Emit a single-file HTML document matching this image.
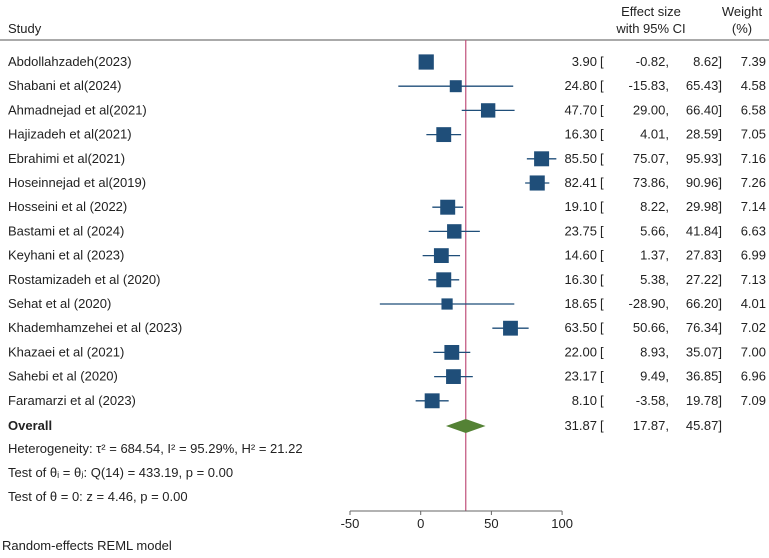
<!DOCTYPE html>
<html><head><meta charset="utf-8"><style>
html,body{margin:0;padding:0;background:#fff;}
svg{display:block;font-family:"Liberation Sans",Arial,sans-serif;font-size:13px;fill:#222;}
</style></head><body>
<svg id="chart" width="769" height="558" viewBox="0 0 769 558" xmlns="http://www.w3.org/2000/svg">
<text x="8" y="33">Study</text>
<text x="651" y="16" text-anchor="middle">Effect size</text>
<text x="651" y="33" text-anchor="middle">with 95% CI</text>
<text x="742" y="16" text-anchor="middle">Weight</text>
<text x="742" y="33" text-anchor="middle">(%)</text>
<line x1="0" y1="40" x2="769" y2="40" stroke="#555" stroke-width="1"/>
<g id="rows"></g>
<text x="8" y="430" font-weight="bold">Overall</text>
<text x="8" y="453">Heterogeneity: τ² = 684.54, I² = 95.29%, H² = 21.22</text>
<text x="8" y="477">Test of θᵢ = θⱼ: Q(14) = 433.19, p = 0.00</text>
<text x="8" y="501">Test of θ = 0: z = 4.46, p = 0.00</text>
<text x="2" y="550">Random-effects REML model</text>
<script>
const studies=["Abdollahzadeh(2023)","Shabani et al(2024)","Ahmadnejad et al(2021)","Hajizadeh et al(2021)","Ebrahimi et al(2021)","Hoseinnejad et al(2019)","Hosseini et al (2022)","Bastami et al (2024)","Keyhani et al (2023)","Rostamizadeh et al (2020)","Sehat et al (2020)","Khademhamzehei et al (2023)","Khazaei et al (2021)","Sahebi et al (2020)","Faramarzi et al (2023)"];
const est=[3.90,24.80,47.70,16.30,85.50,82.41,19.10,23.75,14.60,16.30,18.65,63.50,22.00,23.17,8.10];
const lo=[-0.82,-15.83,29.00,4.01,75.07,73.86,8.22,5.66,1.37,5.38,-28.90,50.66,8.93,9.49,-3.58];
const hi=[8.62,65.43,66.40,28.59,95.93,90.96,29.98,41.84,27.83,27.22,66.20,76.34,35.07,36.85,19.78];
const weights=[7.39,4.58,6.58,7.05,7.16,7.26,7.14,6.63,6.99,7.13,4.01,7.02,7.00,6.96,7.09];
const overall=[31.87,17.87,45.87];
const ticks=[-50,0,50,100];
const NS="http://www.w3.org/2000/svg";
const svg=document.getElementById('chart');const g=document.getElementById('rows');
const xs=v=>420.7+v*1.414;
const ys=i=>62+i*24.2;
function mk(tag,at,parent){const e=document.createElementNS(NS,tag);for(const k in at)e.setAttribute(k,at[k]);(parent||g).appendChild(e);return e;}
function txt(x,y,s,anchor,name){const t=mk('text',{x:x,y:y,'text-anchor':anchor});t.textContent=s;

return t;}
const rl=mk('line',{x1:xs(overall[0]),y1:40,x2:xs(overall[0]),y2:511,stroke:'#c0507a','stroke-width':1.2});


studies.forEach((s,i)=>{
 const y=ys(i);
 txt(8,y+4,s,'start','study-label');
 const l=mk('line',{x1:xs(lo[i]),y1:y,x2:xs(hi[i]),y2:y,stroke:'#1f4e79','stroke-width':1.3});
 
 
 const sz=5.6*Math.sqrt(weights[i]);
 const r=mk('rect',{x:xs(est[i])-sz/2,y:y-sz/2,width:sz,height:sz,fill:'#1f4e79'});
 
 
 txt(597,y+4,est[i].toFixed(2),'end','effect-estimate');
 txt(600,y+4,'[','start','ci-bracket');
 txt(669,y+4,lo[i].toFixed(2)+',','end','ci-lower');
 txt(722,y+4,hi[i].toFixed(2)+']','end','ci-upper');
 txt(766,y+4,weights[i].toFixed(2),'end','weight-value');
});
const oy=426;
const d=mk('polygon',{points:`${xs(overall[1])},${oy} ${xs(overall[0])},${oy-7} ${xs(overall[2])},${oy} ${xs(overall[0])},${oy+7}`,fill:'#548235'});


txt(597,oy+4,overall[0].toFixed(2),'end','overall-estimate');
txt(600,oy+4,'[','start','ci-bracket');
txt(669,oy+4,overall[1].toFixed(2)+',','end','overall-ci-lower');
txt(722,oy+4,overall[2].toFixed(2)+']','end','overall-ci-upper');
const ax=mk('line',{x1:xs(ticks[0]),y1:511,x2:xs(ticks[ticks.length-1]),y2:511,stroke:'#666','stroke-width':1});


ticks.forEach(t=>{
 const tl=mk('line',{x1:xs(t),y1:511,x2:xs(t),y2:515,stroke:'#666','stroke-width':1});
 
 
 txt(xs(t),528,String(t),'middle','x-tick-label');
});
</script>
</svg>
</body></html>
